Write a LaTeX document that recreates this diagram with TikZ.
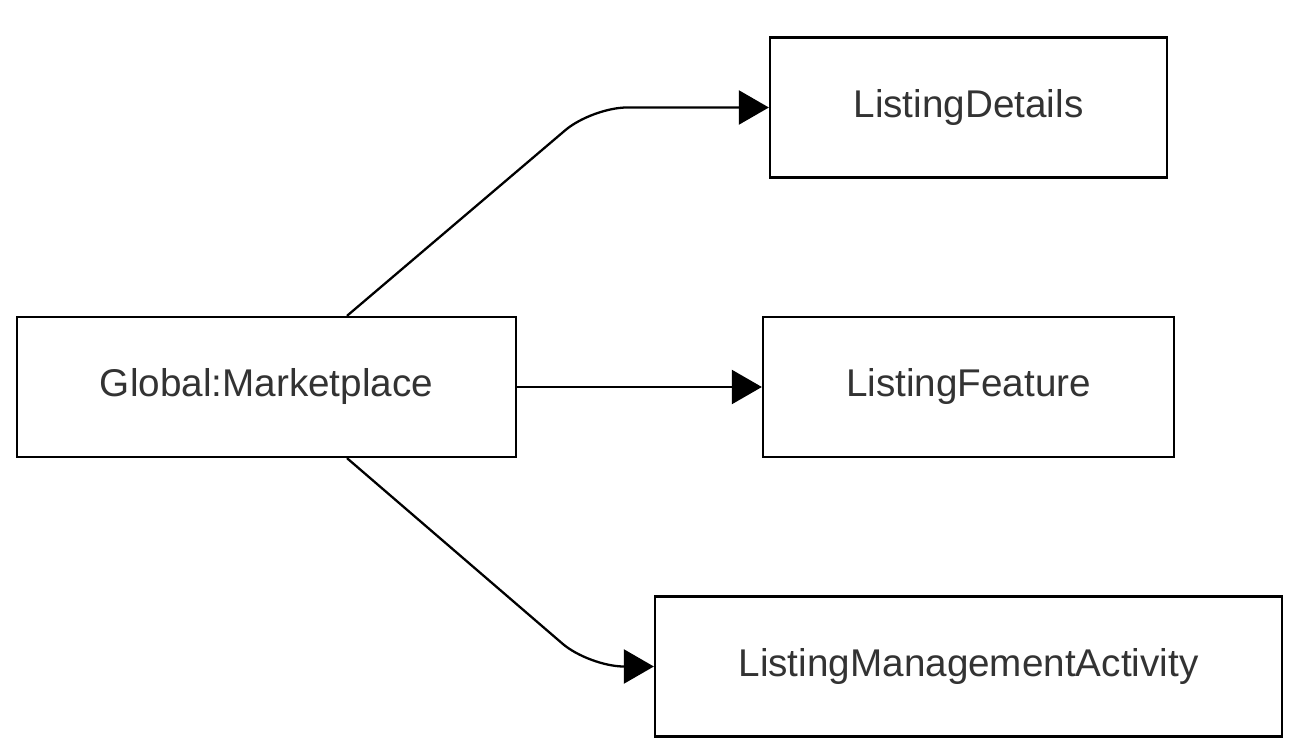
\documentclass[tikz,border=0pt]{standalone}
\usepackage{fontspec}
\setmainfont{Liberation Sans}
\usepackage{tikz}
\usetikzlibrary{arrows.meta, calc}
\usepackage{xcolor}
\definecolor{txtgray}{RGB}{51,51,51}
\tikzset{
  ent/.style={rectangle, draw=black, line width=1.3pt, fill=white,
    minimum height=2.8cm, inner sep=0pt,
    font=\fontsize{22}{26}\selectfont, text=txtgray},
  arr/.style={-{Triangle[length=0.6cm, width=0.68cm]}, line width=1.3pt,
    draw=black},
}

\begin{document}
\begin{tikzpicture}
  \useasboundingbox (0,0) rectangle (25.92,-15.08);

  % ---- source ----
  \node[ent, minimum width=9.98cm] (gm) at (5.33,-7.74) {Global:Marketplace};

  % ---- targets ----
  \node[ent, minimum width=7.94cm]  (ld)  at (19.37,-2.15)  {ListingDetails};
  \node[ent, minimum width=8.22cm]  (lf)  at (19.37,-7.74)  {ListingFeature};
  \node[ent, minimum width=12.54cm] (lma) at (19.37,-13.33) {ListingManagementActivity};

  % ---- bends ----
  \coordinate (bt) at (11.84,-2.15);
  \coordinate (bb) at (11.78,-13.33);

  % ---- Arrows ----
  \draw[arr, rounded corners=0.7cm] ([xshift=1.61cm]gm.north) -- (bt) -- (ld.west);
  \draw[arr] (gm.east) -- (lf.west);
  \draw[arr, rounded corners=0.7cm] ([xshift=1.61cm]gm.south) -- (bb) -- (lma.west);
\end{tikzpicture}
\end{document}
